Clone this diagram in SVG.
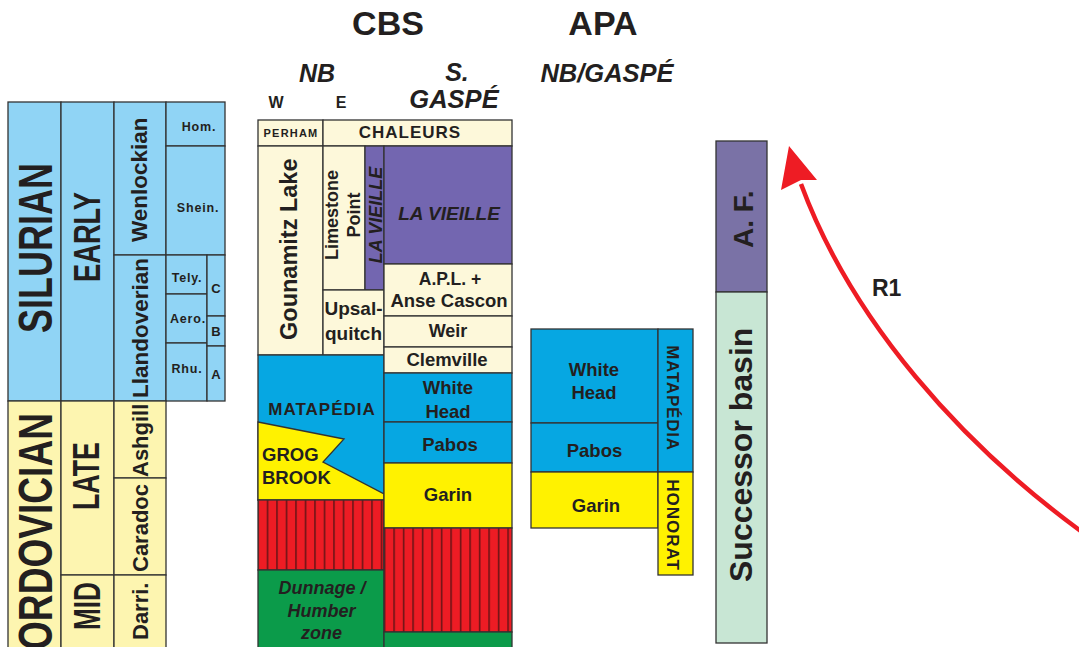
<svg xmlns="http://www.w3.org/2000/svg" width="1079" height="647" viewBox="0 0 1079 647">
<style>
.b{stroke:#333;stroke-width:1.3}
.sb{fill:#90d4f5}
.oy{fill:#fdf5b0}
.cr{fill:#fdf8da}
.bb{fill:#06a7e2}
.yy{fill:#fff200}
.pu{fill:#7366b0}
.gr{fill:#0b9b4a}
.t{font-family:"Liberation Sans",Arial,Helvetica,sans-serif;font-weight:bold;fill:#231f20}
.i{font-style:italic}
.m{text-anchor:middle}
</style>
<defs>
<pattern id="rs1" patternUnits="userSpaceOnUse" x="257.2" y="0" width="9.5" height="20">
<rect width="9.5" height="20" fill="#ed1c24"/>
<rect x="0" width="1.6" height="20" fill="#6e1416"/>
</pattern>
<pattern id="rs2" patternUnits="userSpaceOnUse" x="260.3" y="0" width="9.5" height="20">
<rect width="9.5" height="20" fill="#ed1c24"/>
<rect x="0" width="1.6" height="20" fill="#6e1416"/>
</pattern>
</defs>
<rect width="1079" height="647" fill="#fff"/>

<g id="headers">
<text class="t m" x="388" y="35" font-size="34">CBS</text>
<text class="t m" x="603" y="35" font-size="34">APA</text>
<text class="t i m" x="317" y="82" font-size="25">NB</text>
<text class="t m" x="276" y="108" font-size="16">W</text>
<text class="t m" x="341" y="108" font-size="16">E</text>
<text class="t i m" x="457" y="81" font-size="25">S.</text>
<text class="t i m" x="454" y="108" font-size="25.5">GASPÉ</text>
<text class="t i m" x="607" y="82" font-size="25.5">NB/GASPÉ</text>
</g>

<g id="timescale">
<g id="silurian">
<rect class="b sb" x="8" y="102" width="53" height="299"/>
<text class="t" transform="translate(52,333) rotate(-90)" font-size="49" textLength="170" lengthAdjust="spacingAndGlyphs">SILURIAN</text>
</g>
<g id="early">
<rect class="b sb" x="61" y="102" width="53" height="299"/>
<text class="t" transform="translate(100,282) rotate(-90)" font-size="36" textLength="90" lengthAdjust="spacingAndGlyphs">EARLY</text>
</g>
<g id="wenlockian">
<rect class="b sb" x="114" y="102" width="52" height="153"/>
<text class="t" transform="translate(147,242) rotate(-90)" font-size="22.5">Wenlockian</text>
</g>
<g id="llandoverian">
<rect class="b sb" x="114" y="255" width="52" height="146"/>
<text class="t" transform="translate(148,398) rotate(-90)" font-size="22.5">Llandoverian</text>
</g>
<g id="hom">
<rect class="b sb" x="166" y="102" width="59" height="44"/>
<text class="t m" x="199" y="131" font-size="12.5" letter-spacing="0.8">Hom.</text>
</g>
<g id="shein">
<rect class="b sb" x="166" y="146" width="59" height="109"/>
<text class="t m" x="198" y="212" font-size="12.5" letter-spacing="0.8">Shein.</text>
</g>
<g id="tely">
<rect class="b sb" x="166" y="255" width="41" height="39"/>
<text class="t m" x="187" y="282" font-size="12.5" letter-spacing="0.8">Tely.</text>
</g>
<g id="aero">
<rect class="b sb" x="166" y="294" width="41" height="49"/>
<text class="t m" x="188" y="323" font-size="12.5" letter-spacing="0.8">Aero.</text>
</g>
<g id="rhu">
<rect class="b sb" x="166" y="343" width="41" height="58"/>
<text class="t m" x="187" y="373" font-size="12.5" letter-spacing="0.8">Rhu.</text>
</g>
<g id="c">
<rect class="b sb" x="207" y="255" width="18" height="61"/>
<text class="t m" x="216" y="293" font-size="13">C</text>
</g>
<g id="bstage">
<rect class="b sb" x="207" y="316" width="18" height="30"/>
<text class="t m" x="216" y="336" font-size="13">B</text>
</g>
<g id="astage">
<rect class="b sb" x="207" y="346" width="18" height="55"/>
<text class="t m" x="216" y="379" font-size="13">A</text>
</g>
<g id="ordovician">
<rect class="b oy" x="8" y="401" width="53" height="260"/>
<text class="t" transform="translate(52,650) rotate(-90)" font-size="49" textLength="237" lengthAdjust="spacingAndGlyphs">ORDOVICIAN</text>
</g>
<g id="late">
<rect class="b oy" x="61" y="401" width="53" height="174"/>
<text class="t" transform="translate(99,510) rotate(-90)" font-size="36" textLength="68" lengthAdjust="spacingAndGlyphs">LATE</text>
</g>
<g id="mid">
<rect class="b oy" x="61" y="575" width="53" height="86"/>
<text class="t" transform="translate(100,630) rotate(-90)" font-size="36" textLength="48" lengthAdjust="spacingAndGlyphs">MID</text>
</g>
<g id="ashgill">
<rect class="b oy" x="114" y="401" width="52" height="77"/>
<text class="t" transform="translate(148,477) rotate(-90)" font-size="22">Ashgill</text>
</g>
<g id="caradoc">
<rect class="b oy" x="114" y="478" width="52" height="97"/>
<text class="t" transform="translate(148,572) rotate(-90)" font-size="22">Caradoc</text>
</g>
<g id="darri">
<rect class="b oy" x="114" y="575" width="52" height="86"/>
<text class="t" transform="translate(148,640) rotate(-90)" font-size="22">Darri.</text>
</g>
</g>

<g id="cbs">
<g id="perham">
<rect class="b cr" x="258" y="120" width="65" height="26"/>
<text class="t m" x="291" y="137" font-size="11" letter-spacing="1.2">PERHAM</text>
</g>
<g id="chaleurs">
<rect class="b cr" x="323" y="120" width="189" height="26"/>
<text class="t m" x="410" y="138" font-size="17" letter-spacing="1">CHALEURS</text>
</g>
<g id="gounamitz">
<rect class="b cr" x="258" y="146" width="65" height="209"/>
<text class="t" transform="translate(297,340) rotate(-90)" font-size="23.5">Gounamitz Lake</text>
</g>
<g id="limestone">
<rect class="b cr" x="323" y="146" width="42" height="144"/>
<text class="t m" transform="translate(338,215) rotate(-90)" font-size="18">Limestone</text>
<text class="t m" transform="translate(360,215) rotate(-90)" font-size="18">Point</text>
</g>
<g id="lavieille-nb">
<rect class="b pu" x="365" y="146" width="19" height="144"/>
<text class="t i m" transform="translate(382,215) rotate(-90)" font-size="18">LA VIEILLE</text>
</g>
<g id="upsalquitch">
<rect class="b cr" x="323" y="290" width="61" height="65"/>
<text class="t m" x="353.5" y="315" font-size="19">Upsal-</text>
<text class="t m" x="353.5" y="340" font-size="19">quitch</text>
</g>
<g id="matapedia-nb">
<rect class="b bb" x="258" y="355" width="126" height="145"/>
<text class="t m" x="322" y="415" font-size="17" letter-spacing="1">MATAPÉDIA</text>
</g>
<g id="grogbrook">
<polygon class="b yy" points="258,422 344,439 323,462 384,494 384,500 258,500"/>
<text class="t" x="262" y="461" font-size="18.5">GROG</text>
<text class="t" x="262" y="484" font-size="18.5">BROOK</text>
</g>
<g id="volcanic-nb">
<rect class="b" x="258" y="500" width="126" height="70" fill="url(#rs1)"/>
</g>
<g id="dunnage">
<rect class="b gr" x="258" y="570" width="126" height="90"/>
<text class="t i m" x="322" y="594" font-size="18">Dunnage /</text>
<text class="t i m" x="321.5" y="617" font-size="18">Humber</text>
<text class="t i m" x="321.5" y="639" font-size="18">zone</text>
</g>
<g id="lavieille-sg">
<rect class="b pu" x="384" y="146" width="128" height="118"/>
<text class="t i m" x="449" y="220" font-size="19">LA VIEILLE</text>
</g>
<g id="apl">
<rect class="b cr" x="384" y="264" width="128" height="52"/>
<text class="t m" x="450" y="285" font-size="17.5">A.P.L. +</text>
<text class="t m" x="449" y="307" font-size="18.5">Anse Cascon</text>
</g>
<g id="weir">
<rect class="b cr" x="384" y="316" width="128" height="31"/>
<text class="t m" x="448" y="337" font-size="18">Weir</text>
</g>
<g id="clemville">
<rect class="b cr" x="384" y="347" width="128" height="26"/>
<text class="t m" x="447" y="366" font-size="18.5">Clemville</text>
</g>
<g id="whitehead-sg">
<rect class="b bb" x="384" y="373" width="128" height="49"/>
<text class="t m" x="448" y="394" font-size="18.5">White</text>
<text class="t m" x="448" y="418" font-size="18.5">Head</text>
</g>
<g id="pabos-sg">
<rect class="b bb" x="384" y="422" width="128" height="41"/>
<text class="t m" x="450" y="451" font-size="18.5">Pabos</text>
</g>
<g id="garin-sg">
<rect class="b yy" x="384" y="463" width="128" height="65"/>
<text class="t m" x="448" y="501" font-size="18.5">Garin</text>
</g>
<g id="volcanic-sg">
<rect class="b" x="384" y="528" width="128" height="104" fill="url(#rs2)"/>
</g>
<g id="green-sg">
<rect class="b gr" x="384" y="632" width="128" height="30"/>
</g>
</g>

<g id="apa">
<g id="whitehead-apa">
<rect class="b bb" x="531" y="329" width="127" height="94"/>
<text class="t m" x="594" y="376" font-size="18.5">White</text>
<text class="t m" x="594" y="399" font-size="18.5">Head</text>
</g>
<g id="pabos-apa">
<rect class="b bb" x="531" y="423" width="127" height="49"/>
<text class="t m" x="594.5" y="457" font-size="18.5">Pabos</text>
</g>
<g id="garin-apa">
<rect class="b yy" x="531" y="472" width="127" height="56"/>
<text class="t m" x="596" y="512" font-size="18.5">Garin</text>
</g>
<g id="matapedia-apa">
<rect class="b bb" x="658" y="329" width="35" height="143"/>
<text class="t m" transform="translate(667,398) rotate(90)" font-size="17" letter-spacing="0.8">MATAPÉDIA</text>
</g>
<g id="honorat">
<rect class="b yy" x="658" y="472" width="35" height="103"/>
<text class="t m" transform="translate(667,525) rotate(90)" font-size="17" letter-spacing="1">HONORAT</text>
</g>
</g>

<g id="basin">
<g id="af">
<rect class="b" x="716" y="141" width="51" height="151" fill="#7a72a6"/>
<text class="t" transform="translate(753,248) rotate(-90)" font-size="28">A. F.</text>
</g>
<g id="successor">
<rect class="b" x="716" y="292" width="51" height="351" fill="#c8e6d4"/>
<text class="t" transform="translate(752,582) rotate(-90)" font-size="32">Successor basin</text>
</g>
</g>

<g id="connectors">
<path d="M 1082 532 C 962 444, 852 322, 801 184" fill="none" stroke="#ee1c24" stroke-width="4.5"/>
<polygon points="789,146 817,180 801,180 781,190" fill="#ee1c24"/>
<text class="t" x="872" y="296" font-size="23">R1</text>
</g>
</svg>
